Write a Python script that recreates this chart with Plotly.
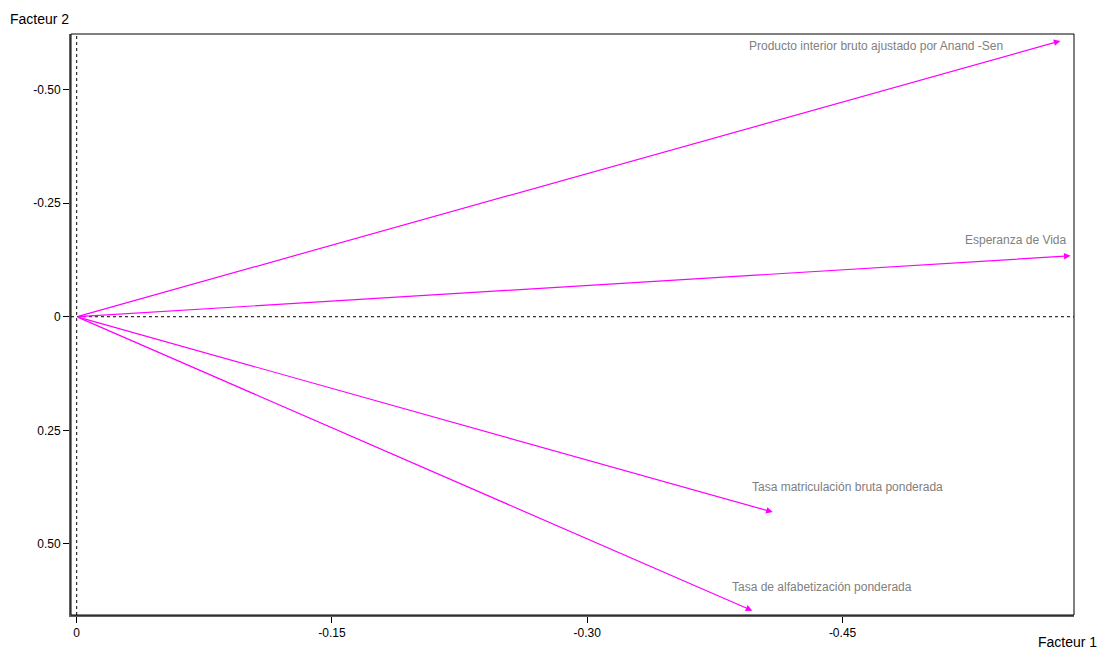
import plotly.graph_objects as go

# Data
variables = [
    "Producto interior bruto ajustado por Anand -Sen",
    "Esperanza de Vida",
    "Tasa matriculación bruta ponderada",
    "Tasa de alfabetización ponderada",
]
facteur1 = [-0.578, -0.584, -0.409, -0.397]
facteur2 = [-0.607, -0.134, 0.430, 0.647]

x_tickvals = [0, -0.15, -0.30, -0.45]
x_ticktext = ["0", "-0.15", "-0.30", "-0.45"]
y_tickvals = [-0.50, -0.25, 0, 0.25, 0.50]
y_ticktext = ["-0.50", "-0.25", "0", "0.25", "0.50"]

# Label placement (pixel offsets from arrow tip)
label_style = [
    dict(xanchor="right", xshift=-55, yshift=-5),
    dict(xanchor="right", xshift=-2, yshift=16),
    dict(xanchor="left", xshift=-23, yshift=25),
    dict(xanchor="left", xshift=-22, yshift=24),
]

FONT = "Liberation Sans, Arial, sans-serif"
MAGENTA = "#FF00FF"

fig = go.Figure()
# invisible trace to create axes
fig.add_trace(go.Scatter(x=facteur1, y=facteur2, mode="markers",
                         marker=dict(opacity=0), hoverinfo="skip", showlegend=False))

annotations = []
for name, fx, fy, st in zip(variables, facteur1, facteur2, label_style):
    annotations.append(dict(
        x=fx, y=fy, ax=0, ay=0, xref="x", yref="y", axref="x", ayref="y",
        showarrow=True, arrowhead=2, arrowsize=1.1, arrowwidth=1.2,
        arrowcolor=MAGENTA, text="", standoff=0, startstandoff=0,
    ))
    annotations.append(dict(
        x=fx, y=fy, xref="x", yref="y", text=name, showarrow=False,
        xanchor=st["xanchor"], yanchor="middle",
        xshift=st["xshift"], yshift=st["yshift"],
        font=dict(family=FONT, size=12, color="#808080"),
    ))

annotations.append(dict(
    text="Facteur 2", xref="paper", yref="paper", x=-0.063, y=1.0,
    xanchor="left", yanchor="bottom", yshift=5, showarrow=False,
    font=dict(family=FONT, size=14, color="#000000"),
))
annotations.append(dict(
    text="Facteur 1", xref="paper", yref="paper", x=1.0, y=0.0,
    xanchor="left", yanchor="top", xshift=-38, yshift=-17, showarrow=False,
    font=dict(family=FONT, size=14, color="#000000"),
))

shapes = [
    # frame
    dict(type="rect", xref="paper", yref="paper", x0=0, x1=1, y0=0, y1=1,
         line=dict(color="#000000", width=1)),
    # dashed zero lines
    dict(type="line", xref="x", yref="paper", x0=0, x1=0, y0=0, y1=1,
         line=dict(color="#000000", width=1, dash="3px,3px")),
    dict(type="line", xref="paper", yref="y", x0=0, x1=1, y0=0, y1=0,
         line=dict(color="#000000", width=1, dash="3px,3px")),
]

fig.update_layout(
    width=1100, height=652,
    margin=dict(l=71, r=26, t=34, b=35),
    paper_bgcolor="white", plot_bgcolor="white",
    showlegend=False,
    font=dict(family=FONT, size=12, color="#000000"),
    annotations=annotations,
    shapes=shapes,
    xaxis=dict(
        range=[0.00335, -0.586], tickvals=x_tickvals, ticktext=x_ticktext,
        showgrid=False, zeroline=False, showline=True, linecolor="#606060",
        linewidth=2, ticks="outside", ticklen=6, tickcolor="#000000",
        tickfont=dict(family=FONT, size=12, color="#000000"),
    ),
    yaxis=dict(
        range=[0.6564, -0.6222], tickvals=y_tickvals, ticktext=y_ticktext,
        showgrid=False, zeroline=False, showline=True, linecolor="#606060",
        linewidth=2, ticks="outside", ticklen=6, tickcolor="#000000",
        tickfont=dict(family=FONT, size=12, color="#000000"),
    ),
)

fig.write_html("out.html")
